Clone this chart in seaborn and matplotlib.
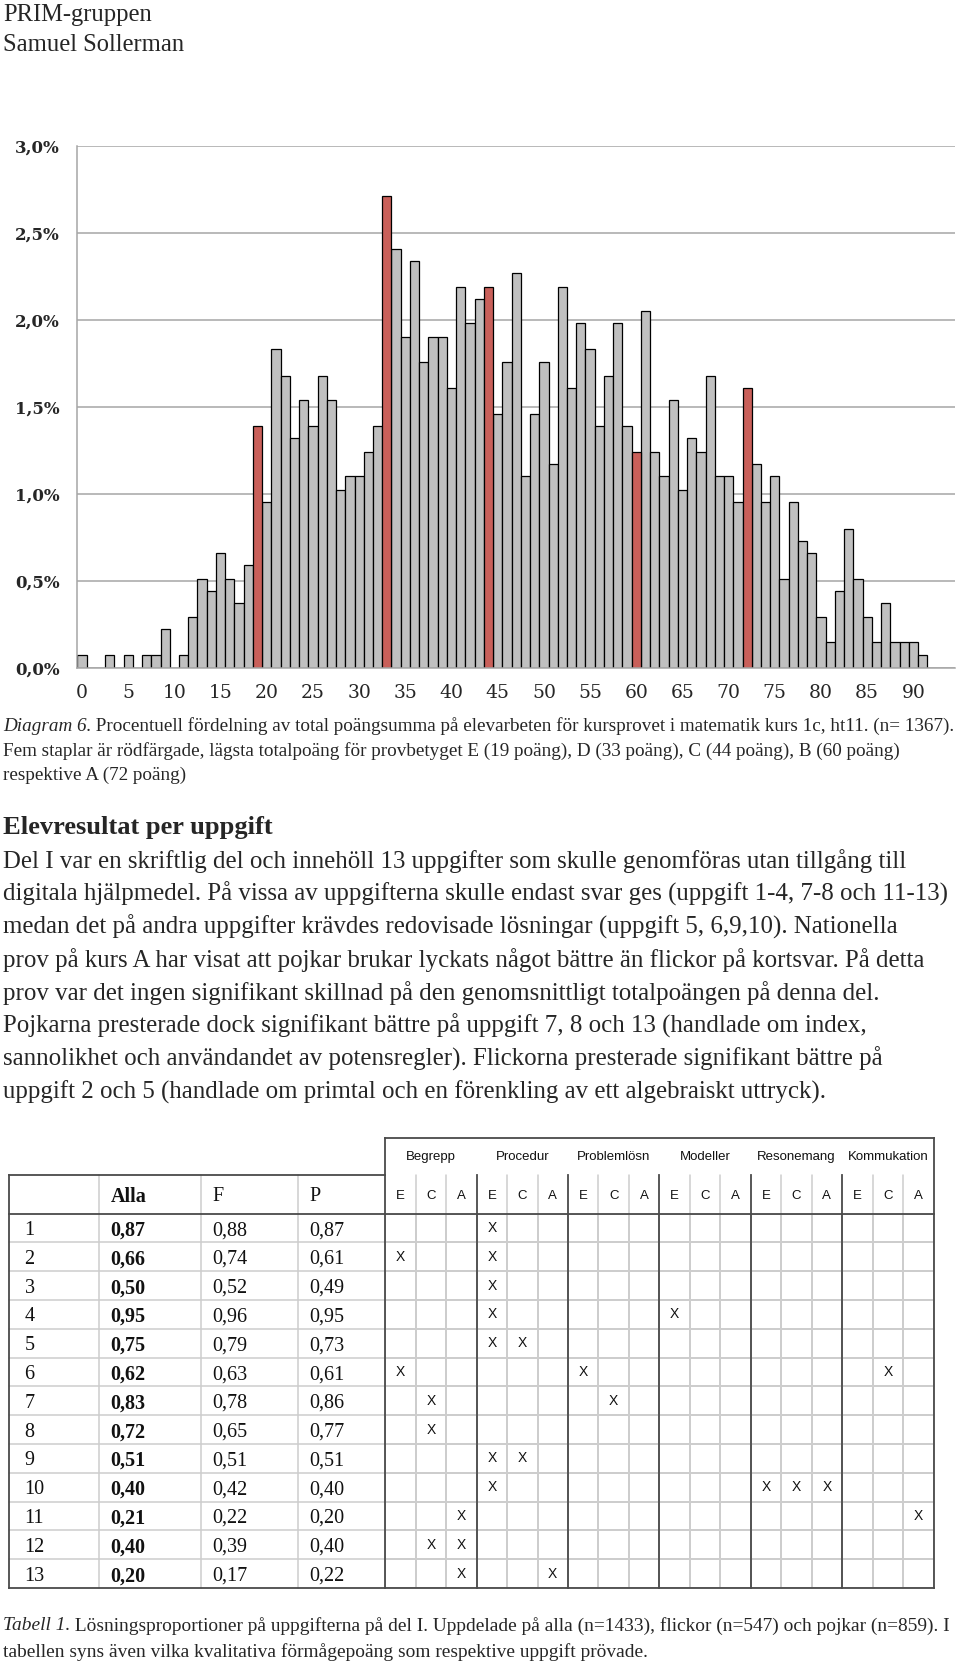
import numpy as np
import pandas as pd
import matplotlib
matplotlib.use("Agg")
import matplotlib.pyplot as plt
import seaborn as sns
from matplotlib.colors import ListedColormap
from matplotlib.ticker import FuncFormatter

# ------------------------------------------------------------------ data
scores = list(range(95))
pct = [
    0.07, 0.00, 0.00, 0.07, 0.00, 0.07, 0.00, 0.07, 0.07, 0.22,   # 0-9
    0.00, 0.07, 0.29, 0.51, 0.44, 0.66, 0.51, 0.37, 0.59, 1.39,   # 10-19
    0.95, 1.83, 1.68, 1.32, 1.54, 1.39, 1.68, 1.54, 1.02, 1.10,   # 20-29
    1.10, 1.24, 1.39, 2.71, 2.41, 1.90, 2.34, 1.76, 1.90, 1.90,   # 30-39
    1.61, 2.19, 1.98, 2.12, 2.19, 1.46, 1.76, 2.27, 1.10, 1.46,   # 40-49
    1.76, 1.17, 2.19, 1.61, 1.98, 1.83, 1.39, 1.68, 1.98, 1.39,   # 50-59
    1.24, 2.05, 1.24, 1.10, 1.54, 1.02, 1.32, 1.24, 1.68, 1.10,   # 60-69
    1.10, 0.95, 1.61, 1.17, 0.95, 1.10, 0.51, 0.95, 0.73, 0.66,   # 70-79
    0.29, 0.15, 0.44, 0.80, 0.51, 0.29, 0.15, 0.37, 0.15, 0.15,   # 80-89
    0.15, 0.07, 0.00, 0.00, 0.00,                                 # 90-94
]
grade_limits = [19, 33, 44, 60, 72]
x_tick_values = list(range(0, 91, 5))
y_tick_values = [0.0, 0.5, 1.0, 1.5, 2.0, 2.5, 3.0]

tasks = [str(i) for i in range(1, 14)]
alla = [0.87, 0.66, 0.50, 0.95, 0.75, 0.62, 0.83, 0.72, 0.51, 0.40, 0.21, 0.40, 0.20]
flickor = [0.88, 0.74, 0.52, 0.96, 0.79, 0.63, 0.78, 0.65, 0.51, 0.42, 0.22, 0.39, 0.17]
pojkar = [0.87, 0.61, 0.49, 0.95, 0.73, 0.61, 0.86, 0.77, 0.51, 0.40, 0.20, 0.40, 0.22]
col_heads = ["Alla", "F", "P"]
groups = ["Begrepp", "Procedur", "Problemlösn", "Modeller", "Resonemang", "Kommukation"]
levels = ["E", "C", "A"]
task_marks = {
    1: [("Procedur", "E")],
    2: [("Begrepp", "E"), ("Procedur", "E")],
    3: [("Procedur", "E")],
    4: [("Procedur", "E"), ("Modeller", "E")],
    5: [("Procedur", "E"), ("Procedur", "C")],
    6: [("Begrepp", "E"), ("Problemlösn", "E"), ("Kommukation", "C")],
    7: [("Begrepp", "C"), ("Problemlösn", "C")],
    8: [("Begrepp", "C")],
    9: [("Procedur", "E"), ("Procedur", "C")],
    10: [("Procedur", "E"), ("Resonemang", "E"), ("Resonemang", "C"), ("Resonemang", "A")],
    11: [("Begrepp", "A"), ("Kommukation", "A")],
    12: [("Begrepp", "C"), ("Begrepp", "A")],
    13: [("Begrepp", "A"), ("Procedur", "A")],
}

header_lines = ["PRIM-gruppen", "Samuel Sollerman"]
caption_lines = [
    [("Diagram 6.", "italic"),
     (" Procentuell fördelning av total poängsumma på elevarbeten för kursprovet i matematik kurs 1c, ht11. (n= 1367).", "normal")],
    [("Fem staplar är rödfärgade, lägsta totalpoäng för provbetyget E (19 poäng), D (33 poäng), C (44 poäng), B (60 poäng)", "normal")],
    [("respektive A (72 poäng)", "normal")],
]
heading = "Elevresultat per uppgift"
paragraph = [
    "Del I var en skriftlig del och innehöll 13 uppgifter som skulle genomföras utan tillgång till",
    "digitala hjälpmedel. På vissa av uppgifterna skulle endast svar ges (uppgift 1-4, 7-8 och 11-13)",
    "medan det på andra uppgifter krävdes redovisade lösningar (uppgift 5, 6,9,10). Nationella",
    "prov på kurs A har visat att pojkar brukar lyckats något bättre än flickor på kortsvar. På detta",
    "prov var det ingen signifikant skillnad på den genomsnittligt totalpoängen på denna del.",
    "Pojkarna presterade dock signifikant bättre på uppgift 7, 8 och 13 (handlade om index,",
    "sannolikhet och användandet av potensregler). Flickorna presterade signifikant bättre på",
    "uppgift 2 och 5 (handlade om primtal och en förenkling av ett algebraiskt uttryck).",
]
table_caption = [
    [("Tabell 1.", "italic"),
     (" Lösningsproportioner på uppgifterna på del I. Uppdelade på alla (n=1433), flickor (n=547) och pojkar (n=859). I", "normal")],
    [("tabellen syns även vilka kvalitativa förmågepoäng som respektive uppgift prövade.", "normal")],
]

# ------------------------------------------------------------------ style
W, H, DPI = 960, 1664, 100
sns.set_style("white")
SERIF = "Liberation Serif"
SANS = "Liberation Sans"
CHART_FONT = "DejaVu Serif"
GRAY = "#c0c0c0"
RED = "#c9605a"
GRID = "#a6a6a6"
DARK = "#4a4a4a"
LIGHT = "#cdcdcd"

fig = plt.figure(figsize=(W / DPI, H / DPI), dpi=DPI)
fig.patch.set_facecolor("white")
renderer = fig.canvas.get_renderer()


def fx(x):
    return x / W


def fy(y):
    return 1 - y / H


def seg_width(segs, size, **kw):
    w = 0
    for s, st in segs:
        t = fig.text(0, 0, s, fontsize=size, fontstyle=st, **kw)
        w += t.get_window_extent(renderer).width
        t.remove()
    return w


def fit(segs, target, **kw):
    return 20 * target / seg_width(segs, 20, **kw)


def put_line(x, ybase, segs, size, **kw):
    for s, st in segs:
        t = fig.text(fx(x), fy(ybase), s, fontsize=size, fontstyle=st,
                     va="baseline", ha="left", **kw)
        x += t.get_window_extent(renderer).width


# ------------------------------------------------------------------ chart
df = pd.DataFrame({"poang": scores, "andel": pct})
df["typ"] = np.where(df["poang"].isin(grade_limits), "gräns", "övrig")
df_nz = df[df["andel"] > 0]

ax = fig.add_axes([fx(77.4), fy(667.6), (955 - 77.4) / W, (667.6 - 146) / H])
sns.barplot(data=df_nz, x="poang", y="andel", hue="typ", order=scores,
            hue_order=["övrig", "gräns"], palette={"övrig": GRAY, "gräns": RED},
            dodge=False, width=1.0, saturation=1, edgecolor="black",
            linewidth=0.9, legend=False, ax=ax)
ax.set_xlim(-0.5, len(scores) - 0.5)
ax.set_ylim(0, 3.0)
ax.set_xlabel("")
ax.set_ylabel("")
ax.set_axisbelow(True)
ax.yaxis.grid(True, color=GRID, linewidth=1.1)
ax.xaxis.grid(False)
for side in ["top", "right"]:
    ax.spines[side].set_visible(False)
for side in ["left", "bottom"]:
    ax.spines[side].set_color(GRID)
    ax.spines[side].set_linewidth(1.1)
ax.set_xticks([scores.index(v) for v in x_tick_values])
ax.set_xticklabels([str(v) for v in x_tick_values])
ax.set_xticks(np.arange(-0.5, len(scores), 1), minor=True)
ax.set_yticks(y_tick_values)
ax.yaxis.set_major_formatter(FuncFormatter(lambda v, p: f"{v:.1f}%".replace(".", ",")))
ax.tick_params(axis="x", which="major", length=0, pad=12, labelsize=13.5)
ax.tick_params(axis="x", which="minor", length=4, width=1, color=GRID, direction="out")
ax.tick_params(axis="y", which="major", length=3, width=1, color=GRID, pad=9.5, labelsize=12)
for lab in ax.get_xticklabels():
    lab.set_family(CHART_FONT)
for lab in ax.get_yticklabels():
    lab.set_family(CHART_FONT)
    lab.set_fontweight("bold")

# ------------------------------------------------------------------ texts
s_head = fit([(header_lines[1], "normal")], 182, family=SERIF)
put_line(3, 21, [(header_lines[0], "normal")], s_head, family=SERIF)
put_line(3, 51, [(header_lines[1], "normal")], s_head, family=SERIF)

s_cap = fit(caption_lines[0], 955, family=SERIF)
for yb, segs in zip([731, 755.5, 780], caption_lines):
    put_line(3, yb, segs, s_cap, family=SERIF)

s_h = fit([(heading, "normal")], 270, family=SERIF, fontweight="bold")
put_line(3, 834, [(heading, "normal")], s_h, family=SERIF, fontweight="bold")

s_p = fit([(paragraph[1], "normal")], 944, family=SERIF)
for i, line in enumerate(paragraph):
    put_line(3, 868 + i * 32.9, [(line, "normal")], s_p, family=SERIF)

s_tc = fit(table_caption[0], 946, family=SERIF)
for yb, segs in zip([1630.5, 1657], table_caption):
    put_line(3, yb, segs, s_tc, family=SERIF)

# ------------------------------------------------------------------ table
T_LEFT, T_RIGHT = 8.5, 933.5
main_edges = [8.5, 98.7, 200.7, 297.7, 385.3]
G_LEFT = main_edges[-1]
n_sub = len(groups) * len(levels)
sub_w = (T_RIGHT - G_LEFT) / n_sub
Y_GTOP, Y_HTOP, Y_HBOT, Y_BOT = 1138.0, 1174.5, 1213.7, 1588.0
row_h = (Y_BOT - Y_HBOT) / len(tasks)

# X-grid as a heatmap
mat = np.zeros((len(tasks), n_sub))
annot = np.full((len(tasks), n_sub), "", dtype=object)
for t, marks in task_marks.items():
    for g, l in marks:
        j = groups.index(g) * 3 + levels.index(l)
        mat[t - 1, j] = 1
        annot[t - 1, j] = "X"
axh = fig.add_axes([fx(G_LEFT), fy(Y_BOT), (T_RIGHT - G_LEFT) / W, (Y_BOT - Y_HBOT) / H])
sns.heatmap(mat, ax=axh, cmap=ListedColormap(["white", "white"]), cbar=False,
            annot=annot, fmt="", linewidths=1.1, linecolor=LIGHT,
            xticklabels=False, yticklabels=False,
            annot_kws=dict(fontsize=10, family=SANS, color="#111111"))

# overlay for the rest of the table
ov = fig.add_axes([0, 0, 1, 1])
ov.set_xlim(0, W)
ov.set_ylim(H, 0)
ov.axis("off")

# light lines
for xe in main_edges[1:-1]:
    ov.plot([xe, xe], [Y_HTOP, Y_BOT], color=LIGHT, lw=1.1)
for k in range(1, n_sub):
    if k % 3:
        ov.plot([G_LEFT + k * sub_w] * 2, [Y_HTOP, Y_HBOT], color=LIGHT, lw=1.1)
for r in range(1, len(tasks)):
    yy = Y_HBOT + r * row_h
    ov.plot([T_LEFT, G_LEFT], [yy, yy], color=LIGHT, lw=1.1)

# dark lines
dk = dict(color=DARK, lw=1.3, solid_capstyle="projecting")
ov.plot([T_LEFT, T_LEFT], [Y_HTOP, Y_BOT], **dk)
ov.plot([T_LEFT, G_LEFT], [Y_HTOP, Y_HTOP], **dk)
ov.plot([G_LEFT, T_RIGHT], [Y_GTOP, Y_GTOP], **dk)
ov.plot([G_LEFT, G_LEFT], [Y_GTOP, Y_BOT], **dk)
ov.plot([T_RIGHT, T_RIGHT], [Y_GTOP, Y_BOT], **dk)
for k in range(1, len(groups)):
    xg = G_LEFT + 3 * k * sub_w
    ov.plot([xg, xg], [Y_HTOP, Y_BOT], **dk)
ov.plot([T_LEFT, T_RIGHT], [Y_HBOT, Y_HBOT], **dk)
ov.plot([T_LEFT, T_RIGHT], [Y_BOT, Y_BOT], **dk)

# header texts
y_g = (Y_GTOP + Y_HTOP) / 2 + 1
y_h = (Y_HTOP + Y_HBOT) / 2 + 1.5
for gi, g in enumerate(groups):
    ov.text(G_LEFT + (3 * gi + 1.5) * sub_w, y_g, g, ha="center", va="center",
            family=SANS, fontsize=9.5, color="#111111")
    for li, l in enumerate(levels):
        ov.text(G_LEFT + (3 * gi + li + 0.5) * sub_w, y_h, l, ha="center", va="center",
                family=SANS, fontsize=9.5, color="#111111")
pads = [16, 12, 12, 12]
for ci, h in enumerate(col_heads):
    ov.text(main_edges[ci + 1] + pads[ci + 1], y_h + 1, h, ha="left", va="center",
            family=SERIF, fontsize=14.5, fontweight="bold" if ci == 0 else "normal",
            color="#111111")


def fmt(v):
    return f"{v:.2f}".replace(".", ",")


for r, t in enumerate(tasks):
    yc = Y_HBOT + (r + 0.5) * row_h + 2.5
    cells = [t, fmt(alla[r]), fmt(flickor[r]), fmt(pojkar[r])]
    for ci, c in enumerate(cells):
        ov.text(main_edges[ci] + pads[ci], yc, c, ha="left", va="center",
                family=SERIF, fontsize=14.5, fontweight="bold" if ci == 1 else "normal",
                color="#111111")

fig.savefig("out.png", dpi=DPI, facecolor="white")
